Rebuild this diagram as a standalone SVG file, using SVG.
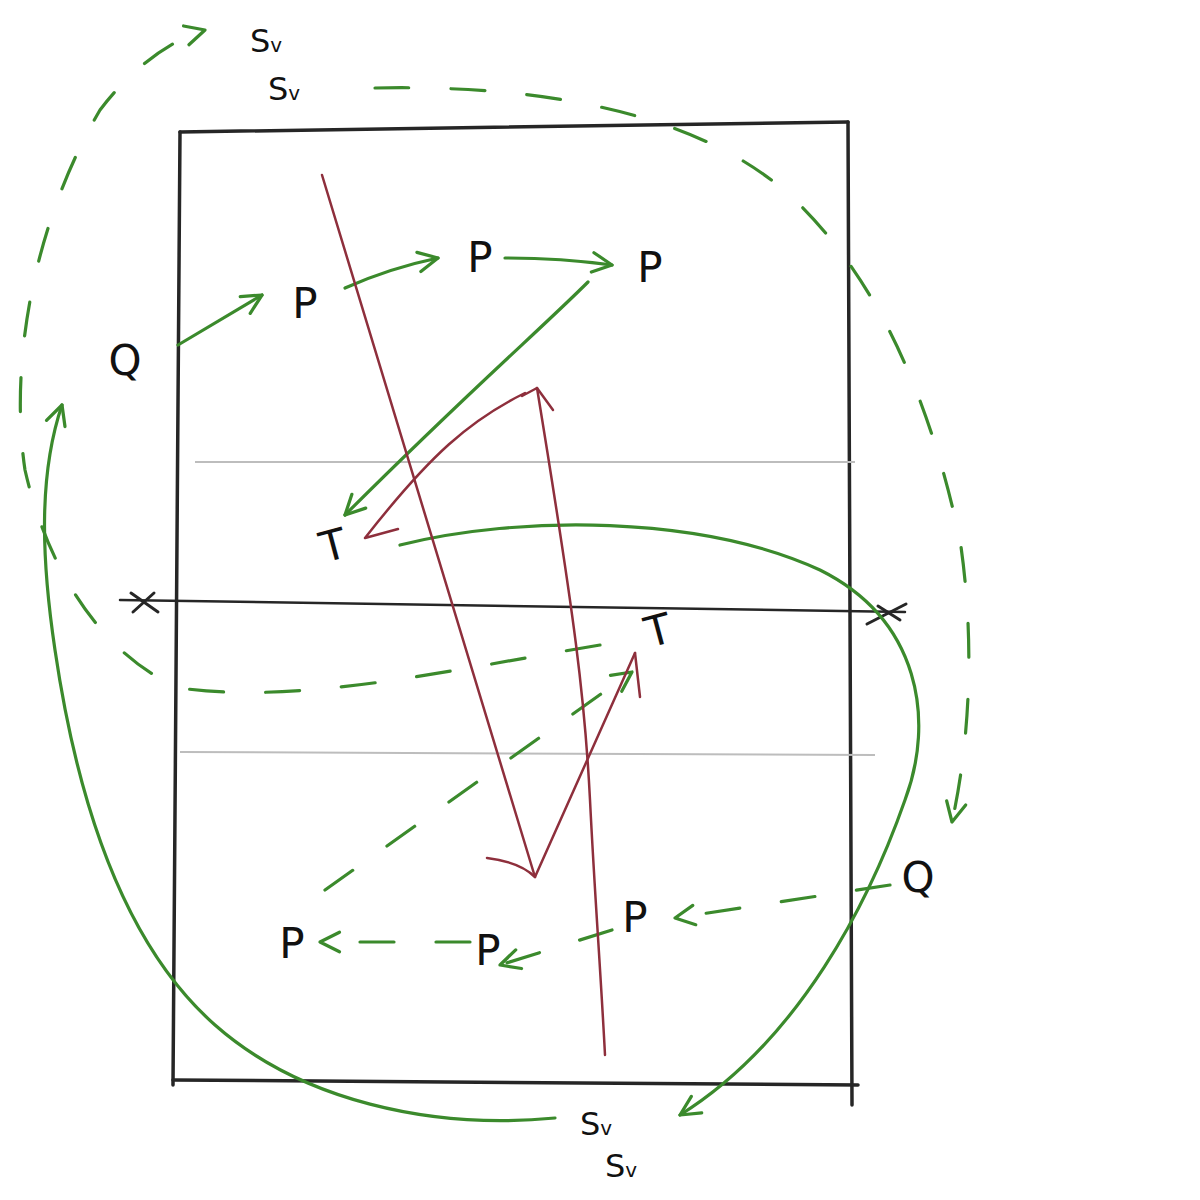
<svg xmlns="http://www.w3.org/2000/svg" width="1200" height="1200" viewBox="0 0 1200 1200">
<style>
.frame{fill:none;stroke:#262626;stroke-width:3.5;stroke-linecap:round}
.grid{fill:none;stroke:#bdbdbd;stroke-width:2}
.g{fill:none;stroke:#3b8a2c;stroke-width:3.2;stroke-linecap:round}
.gd{fill:none;stroke:#3b8a2c;stroke-width:3.2;stroke-linecap:round;stroke-dasharray:34 42}
.r{fill:none;stroke:#8e2f3c;stroke-width:2.5;stroke-linecap:round;stroke-linejoin:round}
.lbl{font-family:"DejaVu Sans","Liberation Sans",sans-serif;fill:#111;font-size:42px;text-anchor:middle}
.sv{font-family:"DejaVu Sans","Liberation Sans",sans-serif;fill:#111;font-size:32px}
.sub{font-size:20px}
</style>
<defs>
<marker id="ag" viewBox="0 0 24 24" refX="21" refY="12" markerWidth="26" markerHeight="26" markerUnits="userSpaceOnUse" orient="auto">
<path d="M3,3 L21,12 L3,21" fill="none" stroke="#3b8a2c" stroke-width="3" stroke-linecap="round" stroke-linejoin="round" stroke-dasharray="none"/>
</marker>
</defs>
<rect width="1200" height="1200" fill="#fff"/>
<g id="frame">
<path class="frame" d="M180,132 L848,122"/>
<path class="frame" d="M180,132 L173,1085"/>
<path class="frame" d="M848,122 L852,1105"/>
<path class="frame" d="M173,1080 L858,1085"/>
<path class="frame" style="stroke-width:2.5" d="M120,600 L905,612"/>
<path class="frame" style="stroke-width:3" d="M131,593 L158,612 M133,612 L154,593"/>
<path class="frame" style="stroke-width:3" d="M867,624 L906,604 M878,606 L900,620"/>
<path class="grid" d="M195,462 L855,462"/>
<path class="grid" d="M180,752 L875,755"/>
</g>
<g id="connectors">
<path class="g" marker-end="url(#ag)" d="M178,345 L262,295"/>
<path class="g" marker-end="url(#ag)" d="M345,288 Q390,268 438,258"/>
<path class="g" marker-end="url(#ag)" d="M505,258 Q560,258 612,265"/>
<path class="g" marker-end="url(#ag)" d="M588,282 C540,330 470,390 345,515"/>
<path class="g" marker-end="url(#ag)" d="M400,545 C520,515 700,515 820,570 C920,620 935,720 905,800 C870,900 800,1040 680,1115"/>
<path class="g" marker-end="url(#ag)" d="M555,1118 C430,1130 300,1100 215,1025 C130,950 80,820 55,650 C40,550 40,470 62,405"/>
<path class="gd" marker-end="url(#ag)" d="M375,88 C520,85 700,105 800,205 C880,285 930,400 960,540 C975,640 970,740 952,822"/>
<path class="gd" marker-end="url(#ag)" d="M600,645 C450,670 300,705 180,688 C110,660 50,580 25,470 C10,370 30,230 100,110 C130,70 170,40 205,30"/>
<path class="gd" marker-end="url(#ag)" d="M890,885 L675,918"/>
<path class="gd" marker-end="url(#ag)" d="M612,930 L500,965"/>
<path class="gd" marker-end="url(#ag)" d="M470,942 L320,942"/>
<path class="gd" marker-end="url(#ag)" d="M325,890 L632,672"/>
<path class="r" d="M322,175 L535,877 L635,653"/>
<path class="r" d="M487,858 Q520,862 535,877"/>
<path class="r" d="M635,653 L640,697"/>
<path class="r" d="M605,1055 C600,960 595,900 590,800 C585,700 575,620 537,388"/>
<path class="r" d="M522,396 L537,388 L553,410"/>
<path class="r" d="M525,393 C470,420 430,455 365,538 L398,529"/>
</g>
<g id="node-sv-top1"><text class="sv" x="250" y="52">S<tspan class="sub">v</tspan></text></g>
<g id="node-sv-top2"><text class="sv" x="268" y="100">S<tspan class="sub">v</tspan></text></g>
<g id="node-q-left"><text class="lbl" x="125" y="375">Q</text></g>
<g id="node-p1"><text class="lbl" x="305" y="318">P</text></g>
<g id="node-p2"><text class="lbl" x="480" y="272">P</text></g>
<g id="node-p3"><text class="lbl" x="650" y="282">P</text></g>
<g id="node-t1"><text class="lbl" x="333" y="560" transform="rotate(-15 333 545)">T</text></g>
<g id="node-t2"><text class="lbl" x="658" y="645" transform="rotate(-15 658 630)">T</text></g>
<g id="node-q-right"><text class="lbl" x="918" y="892">Q</text></g>
<g id="node-p4"><text class="lbl" x="635" y="932">P</text></g>
<g id="node-p5"><text class="lbl" x="488" y="965">P</text></g>
<g id="node-p6"><text class="lbl" x="292" y="958">P</text></g>
<g id="node-sv-bot1"><text class="sv" x="580" y="1135">S<tspan class="sub">v</tspan></text></g>
<g id="node-sv-bot2"><text class="sv" x="605" y="1177">S<tspan class="sub">v</tspan></text></g>
</svg>
